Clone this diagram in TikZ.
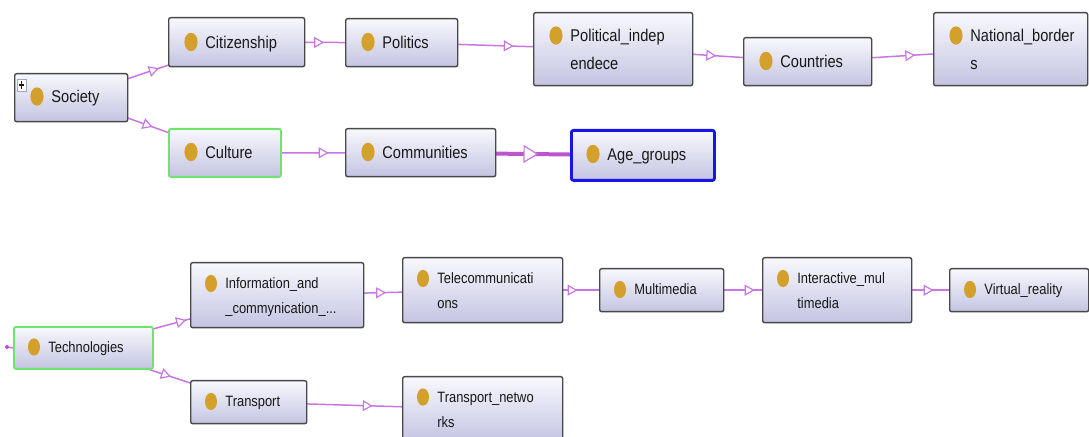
\documentclass[tikz,border=0pt]{standalone}
\usepackage{fontspec}
\setmainfont{Liberation Sans}[FakeStretch=0.86]
\usetikzlibrary{arrows.meta,decorations.markings,backgrounds}

\definecolor{boxtop}{RGB}{248,248,253}
\definecolor{boxbot}{RGB}{196,196,226}
\definecolor{boxborder}{RGB}{72,72,72}
\definecolor{greenc}{RGB}{110,228,110}
\definecolor{bluec}{RGB}{22,22,232}
\definecolor{dotc}{RGB}{212,160,44}
\definecolor{edgec}{RGB}{200,118,228}
\definecolor{edgestrong}{RGB}{188,84,208}
\definecolor{txtc}{RGB}{24,24,24}
\definecolor{iconc}{RGB}{150,170,200}

% class box with a dot and its label; row settings come from \dotdx etc.
\newcommand\owl[8][]{%
  \node[box,#1,minimum width={(#5-#3)*0.5pt},minimum height={(#6-#4)*0.5pt}] (#2) at (#3,#4) {};
  \fill[dotc] (#3+\dotdx,#7) ellipse [x radius=\dotrx, y radius=\dotry];
  \node[lbl,anchor=base west] (#2-t) at (#3+\txtdx,#7+\capoff) {#8};
}
\newcommand\two[2]{\vtop{\hbox{#1}\hbox{#2}}}

\tikzset{
  box/.style={draw=boxborder, line width=0.7pt, rounded corners=1pt,
    top color=boxtop, bottom color=boxbot, inner sep=0pt, anchor=north west},
  selgreen/.style={draw=greenc, line width=0.9pt},
  selblue/.style={draw=bluec, line width=1.4pt},
  lbl/.style={inner sep=0pt, text=txtc, font=\lblfont},
  isa/.style={draw=edgec, line width=0.75pt, postaction={decorate},
    decoration={markings, mark=at position 0.53 with
      {\arrow[edgec, line width=0.6pt]{Triangle[fill=white, length=5pt, width=5.5pt]}}}},
  isastrong/.style={draw=edgestrong, line width=2pt, postaction={decorate},
    decoration={markings, mark=at position 0.53 with
      {\arrow[edgec, line width=0.6pt]{Triangle[fill=white, length=7.5pt, width=9pt]}}}},
}

\begin{document}
\begin{tikzpicture}[x=0.5pt, y=-0.5pt]
\useasboundingbox (0,0) rectangle (1089,437);
\clip (0,0) rectangle (1089,437);

% upper tree
\def\dotdx{23}\def\txtdx{37}\def\capoff{6.1}
\def\dotrx{3.3pt}\def\dotry{4.6pt}
\def\lblfont{\fontsize{8.5pt}{14pt}\selectfont}
\owl{soc}{14}{73}{127}{121}{96.5}{Society}
\owl{cit}{168}{17}{304}{66}{42}{Citizenship}
\owl{pol}{345}{18}{457}{66}{42}{Politics}
\owl{pin}{533}{12}{692}{85}{35.5}{\two{Political\_indep}{endece}}
\owl{cou}{743}{37}{871}{85}{61}{Countries}
\owl{nat}{933}{12}{1087}{85}{35.5}{\two{National\_border}{s}}
\owl[selgreen]{cul}{168}{128}{280}{176}{152}{Culture}
\owl{com}{345}{128}{495}{176}{152}{Communities}
\owl[selblue]{age}{570}{129}{713}{179}{154}{Age\_groups}

% expand icon on Society
\draw[draw=iconc, fill=white, line width=0.4pt] (17,79) rectangle (26,91);
\draw[txtc, line width=0.6pt] (21.5,81.5) -- (21.5,89) (19,85) -- (24,85);

% lower tree
\def\dotdx{21}\def\txtdx{35}\def\capoff{5.4}
\def\dotrx{3pt}\def\dotry{4.3pt}
\def\lblfont{\fontsize{7.5pt}{12.5pt}\selectfont}
\owl[selgreen]{tec}{13}{326}{152}{368}{347}{Technologies}
\owl{inf}{190}{262}{363}{327}{283.5}{\two{Information\_and}{\_commynication\_...}}
\owl{tra}{190}{380}{306}{423}{401.5}{Transport}
\owl{tel}{402}{257}{562}{322}{278.5}{\two{Telecommunicati}{ons}}
\owl{mul}{599}{268}{723}{311}{289.5}{Multimedia}
\owl{int}{762}{257}{911}{322}{278.5}{\two{Interactive\_mul}{timedia}}
\owl{vir}{949}{268}{1088}{311}{289.5}{Virtual\_reality}
\owl{trn}{402}{376}{562}{441}{397}{\two{Transport\_netwo}{rks}}

\coordinate (stub) at (7,347);

% subclass links, drawn centre to centre under the boxes
\begin{scope}[on background layer]
  \draw[isa] (soc.center) -- (cit.center);
  \draw[isa] (soc.center) -- (cul.center);
  \draw[isa] (cit.center) -- (pol.center);
  \draw[isa] (pol.center) -- (pin.center);
  \draw[isa] (pin.center) -- (cou.center);
  \draw[isa] (cou.center) -- (nat.center);
  \draw[isa] (cul.center) -- (com.center);
  \draw[isastrong] (com.center) -- (age.center);
  \draw[isa] (tec.center) -- (inf.center);
  \draw[isa] (tec.center) -- (tra.center);
  \draw[isa] (inf.center) -- (tel.center);
  \draw[isa] (tel.center) -- (mul.center);
  \draw[isa] (mul.center) -- (int.center);
  \draw[isa] (int.center) -- (vir.center);
  \draw[isa] (tra.center) -- (trn.center);
  \draw[edgec, line width=0.75pt] (stub) -- (tec.west);
  \fill[edgestrong] (stub) circle [radius=1pt];
\end{scope}
\end{tikzpicture}
\end{document}
